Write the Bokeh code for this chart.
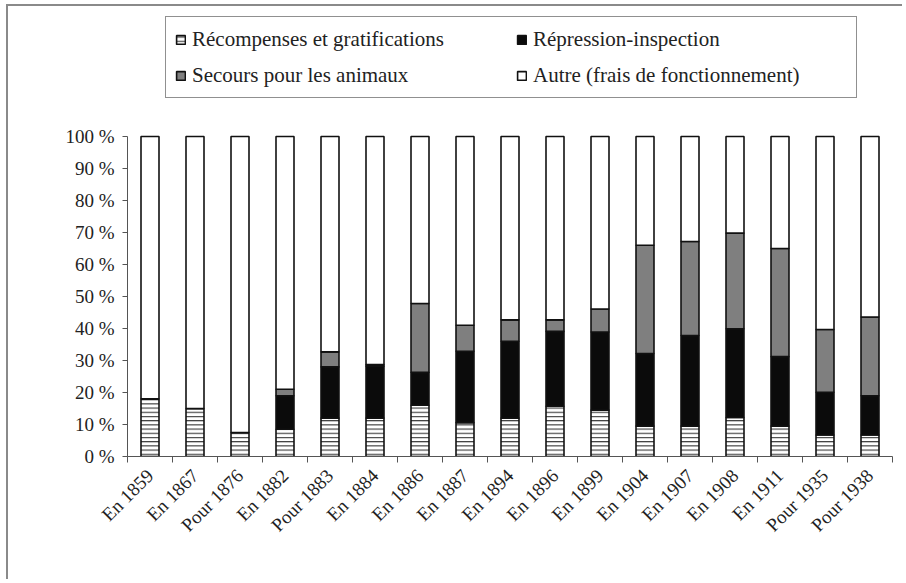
import numpy as np
from math import pi
from bokeh.plotting import figure
from bokeh.models import (Range1d, FixedTicker, Legend, LegendItem)
from bokeh.embed import file_html
from bokeh.resources import INLINE

categories = ["En 1859", "En 1867", "Pour 1876", "En 1882", "Pour 1883", "En 1884",
              "En 1886", "En 1887", "En 1894", "En 1896", "En 1899", "En 1904",
              "En 1907", "En 1908", "En 1911", "Pour 1935", "Pour 1938"]
recompenses = [18, 15, 7.5, 8.5, 12, 12, 16, 10.6, 12, 15.7, 14.5, 9.5, 9.5, 12.2, 9.5, 6.7, 6.7]
repression = [0, 0, 0, 10.5, 16, 16.2, 10.3, 22.3, 24, 23.4, 24.4, 22.7, 28.3, 27.7, 21.7, 13.4, 12.3]
secours = [0, 0, 0, 2, 4.7, 0.5, 21.5, 8.1, 6.7, 3.6, 7.2, 33.8, 29.4, 29.9, 33.8, 19.6, 24.6]
autre = [100 - a - b - c for a, b, c in zip(recompenses, repression, secours)]
y_ticks = [0, 10, 20, 30, 40, 50, 60, 70, 80, 90, 100]
series_names = ["Récompenses et gratifications", "Répression-inspection",
                "Secours pour les animaux", "Autre (frais de fonctionnement)"]

FONT = "Liberation Serif"
n = len(categories)
xs = [i + 0.5 for i in range(n)]

p = figure(width=896, height=575, output_backend="svg", toolbar_location=None,
           x_range=Range1d(0, n), y_range=Range1d(0, 140.625),
           min_border_left=119, min_border_right=12, min_border_top=0, min_border_bottom=125)
p.styles = {"margin-left": "6px", "margin-top": "4px",
            "border-top": "2px solid #8a8a8a", "border-left": "2px solid #8a8a8a"}
p.outline_line_color = None
p.xgrid.grid_line_color = None
p.ygrid.grid_line_color = None

series = [recompenses, repression, secours, autre]
bottom = np.zeros(n)
renderers = []
styles = [
    dict(fill_color="white", hatch_pattern="horizontal_line", hatch_scale=4.2,
         hatch_weight=1.1, hatch_color="#333333"),
    dict(fill_color="#0b0b0b"),
    dict(fill_color="#7f7f7f"),
    dict(fill_color="white"),
]
for vals, st in zip(series, styles):
    top = bottom + np.array(vals)
    r = p.vbar(x=xs, width=0.4, bottom=list(bottom), top=list(top),
               line_color="#111111", line_width=1.6, **st)
    renderers.append(r)
    bottom = top

# y axis
p.yaxis.bounds = (0, 100)
p.yaxis.ticker = FixedTicker(ticks=y_ticks)
p.yaxis.major_label_overrides = {t: f"{t} %" for t in y_ticks}
p.yaxis.major_tick_out = 5
p.yaxis.major_tick_in = 0
p.yaxis.minor_tick_line_color = None
p.yaxis.axis_line_color = "#555555"
p.yaxis.major_tick_line_color = "#555555"
p.yaxis.major_label_text_font = FONT
p.yaxis.major_label_text_font_size = "19px"
p.yaxis.major_label_text_color = "#222222"
p.yaxis.major_label_standoff = 8

# x axis
p.xaxis.ticker = FixedTicker(ticks=xs, minor_ticks=list(range(n + 1)))
p.xaxis.major_label_overrides = {x: c for x, c in zip(xs, categories)}
p.xaxis.major_tick_out = 0
p.xaxis.major_tick_in = 0
p.xaxis.minor_tick_out = 6
p.xaxis.minor_tick_in = 0
p.xaxis.minor_tick_line_color = "#555555"
p.xaxis.axis_line_color = "#555555"
p.xaxis.major_label_orientation = pi / 4
p.xaxis.major_label_text_font = FONT
p.xaxis.major_label_text_font_size = "19px"
p.xaxis.major_label_text_color = "#222222"
p.xaxis.major_label_standoff = 10

items = [LegendItem(label=nm, renderers=[r]) for nm, r in zip(series_names, renderers)]
legend = Legend(items=items, location=(38, 358), orientation="horizontal", ncols=2,
                label_text_font="serif", label_text_font_size="21px", label_text_color="#222222",
                glyph_width=11, glyph_height=11, label_standoff=6, spacing=10,
                label_width=314, label_height=26,
                padding=9, margin=0, border_line_color="#222222", border_line_width=1,
                background_fill_color="white", background_fill_alpha=1.0)
p.add_layout(legend, "center")

open("out.html", "w").write(file_html(p, INLINE))
